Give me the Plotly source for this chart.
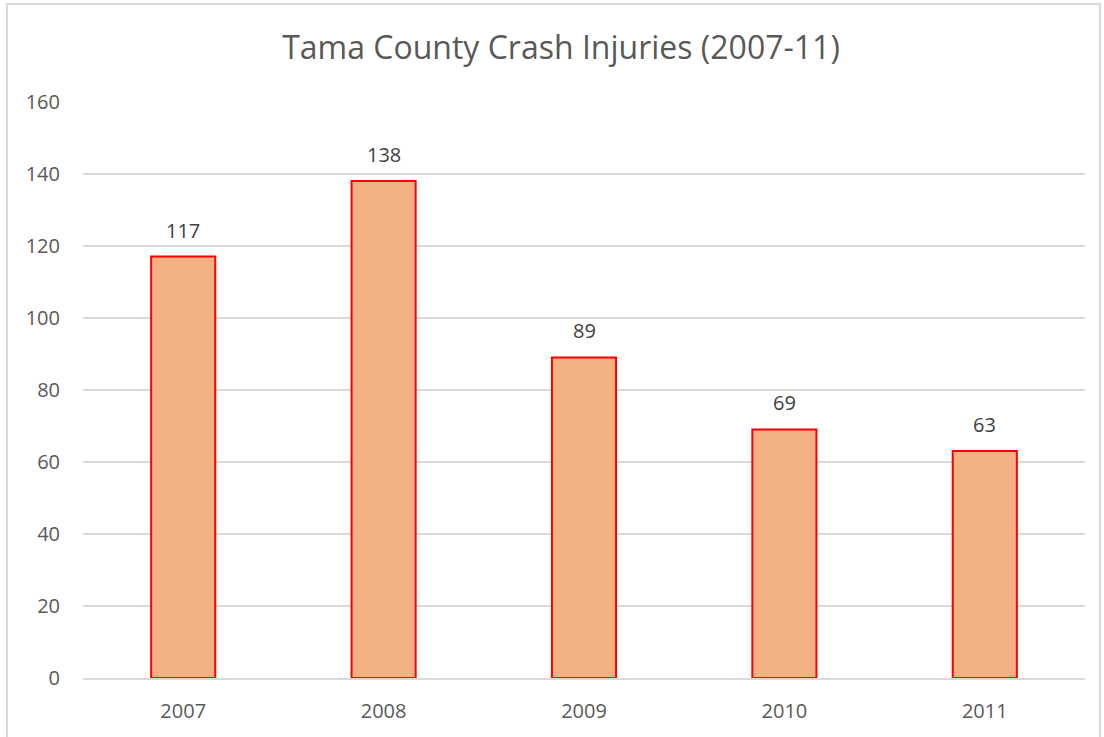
import plotly.graph_objects as go

years = ["2007", "2008", "2009", "2010", "2011"]
injuries = [117, 138, 89, 69, 63]
y_ticks = [0, 20, 40, 60, 80, 100, 120, 140, 160]

W, H = 1104, 737
L, R, T, B = 83, 19, 101, 59
pw, ph = W - L - R, H - T - B

def px_x(px):
    return (px - L) / pw

def px_y(py):
    return (H - B - py) / ph

fig = go.Figure(go.Bar(
    x=years, y=injuries,
    marker=dict(color="#F4B183", line=dict(color="#FF0000", width=2)),
    hoverinfo="skip",
))

for i, v in enumerate(injuries):
    fig.add_annotation(x=i, y=v, text=str(v), showarrow=False,
                       xref="x", yref="y",
                       yanchor="bottom", yshift=11,
                       font=dict(size=20, color="#404040", family="Open Sans"))

fig.update_layout(
    width=W, height=H,
    margin=dict(l=L, r=R, t=T, b=B),
    paper_bgcolor="white", plot_bgcolor="white",
    bargap=0.68,
    showlegend=False,
    title=dict(text="Tama County Crash Injuries (2007-11)",
               x=561 / W, xanchor="center", y=1 - 48 / H, yanchor="middle",
               font=dict(size=32, color="#595959", family="Open Sans")),
    font=dict(family="Open Sans", color="#595959"),
    xaxis=dict(type="category", showgrid=False, showline=True, linecolor="#d9d9d9",
               linewidth=1.5, tickfont=dict(size=20, color="#595959"), ticks="",
               ticklabelstandoff=14),
    yaxis=dict(range=[0, 160.2], tickvals=y_ticks, showgrid=True, gridcolor="#d9d9d9",
               gridwidth=1.5, zeroline=False, showline=False,
               tickfont=dict(size=20, color="#595959"), ticks="", ticklabelstandoff=22),
    shapes=[dict(type="rect", xref="paper", yref="paper",
                 x0=px_x(7), x1=px_x(1100), y0=px_y(760), y1=px_y(4),
                 line=dict(color="#d9d9d9", width=2), fillcolor="rgba(0,0,0,0)",
                 layer="below")],
)

fig.write_html("out.html", config={"displayModeBar": False},
               post_script="document.body.style.margin='0px';")
